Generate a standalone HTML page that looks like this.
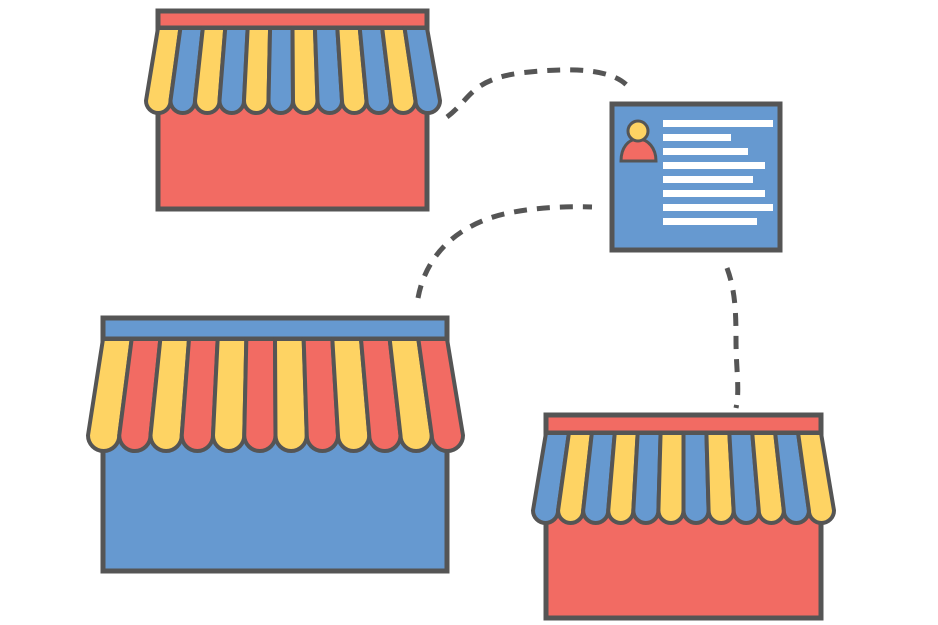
<!DOCTYPE html>
<html><head><meta charset="utf-8"><style>html,body{margin:0;padding:0;background:#fff}svg{display:block}</style></head>
<body>
<svg id="s" width="938" height="625" viewBox="0 0 938 625" xmlns="http://www.w3.org/2000/svg">
<g fill="none" stroke="#555" stroke-width="5" stroke-dasharray="13 10" stroke-linecap="butt">
<path d="M447 117 C470 100 470 80 520 73 C580 66 620 70 632 92"/>
<path d="M418 298 C425 260 450 232 490 218 C520 208 560 206 592 207"/>
<path d="M727 268 C735 290 736 310 736 340 C736 370 740 390 736 408"/>
</g>
<g id="stores"></g>
<rect x="612" y="104" width="168" height="146" fill="#6699d0" stroke="#555" stroke-width="5"/>
<path d="M621 161 C621 148 628 139 638 139 C648 139 656 148 656 161 Z" fill="#f26b63" stroke="#555" stroke-width="3"/>
<circle cx="638" cy="131" r="10" fill="#fed363" stroke="#555" stroke-width="3"/>
<g fill="#fff">
<rect x="663" y="120" width="110" height="7"/>
<rect x="663" y="134" width="68" height="7"/>
<rect x="663" y="148" width="85" height="7"/>
<rect x="663" y="162" width="102" height="7"/>
<rect x="663" y="176" width="90" height="7"/>
<rect x="663" y="190" width="102" height="7"/>
<rect x="663" y="204" width="110" height="7"/>
<rect x="663" y="218" width="94" height="7"/>
</g>
</svg>
<script>
var R='#f26b63',Y='#fed363',B='#6699d0',D='#555';
function store(x1,x2,y1,bandB,awB,y2,bx1,bx2,band,body,c1,c2){
 var s='';
 s+='<rect x="'+x1+'" y="'+y1+'" width="'+(x2-x1)+'" height="'+(y2-y1)+'" fill="'+body+'" stroke="'+D+'" stroke-width="5"/>';
 s+='<rect x="'+x1+'" y="'+y1+'" width="'+(x2-x1)+'" height="'+(bandB-y1)+'" fill="'+band+'" stroke="'+D+'" stroke-width="5"/>';
 var n=12,tw=(x2-x1)/n,bw=(bx2-bx1)/n,r=bw/2,yb=awB-r;
 for(var i=0;i<n;i++){
  var tl=x1+i*tw,tr=tl+tw,bl=bx1+i*bw,br=bl+bw;
  s+='<path d="M'+tl+' '+bandB+' L'+bl+' '+yb+' A'+r+' '+r+' 0 0 0 '+br+' '+yb+' L'+tr+' '+bandB+' Z" fill="'+(i%2?c2:c1)+'" stroke="'+D+'" stroke-width="4" stroke-linejoin="round"/>';
 }
 return s;
}
var h='';
h+=store(158,427,11,28,113,209,146,440,R,R,Y,B);
h+=store(103,447,318,339,451,571,88,463,B,B,Y,R);
h+=store(546,821,415,433,523,618,533,834,R,R,B,Y);
document.getElementById('stores').innerHTML=h;
</script>
</body></html>
